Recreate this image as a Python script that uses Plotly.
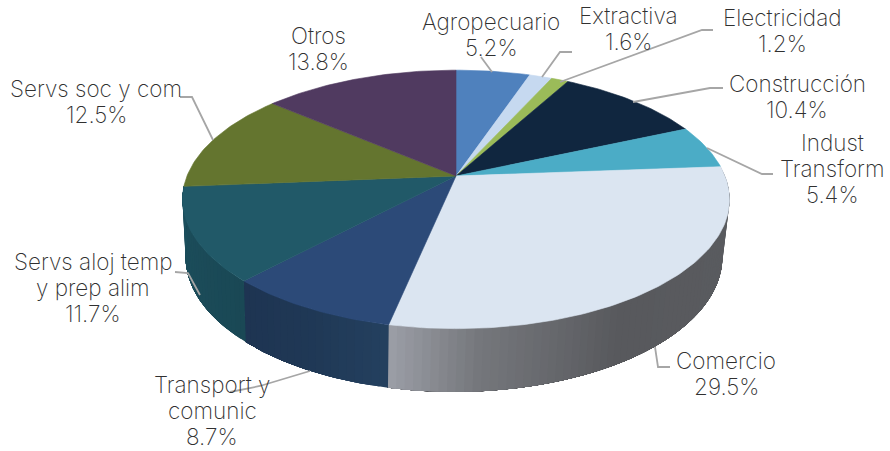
import numpy as np
import plotly.graph_objects as go

categories = ["Agropecuario", "Extractiva", "Electricidad", "Construcción", "Indust<br>Transform",
              "Comercio", "Transport y<br>comunic", "Servs aloj temp<br>y prep alim", "Servs soc y com", "Otros"]
shares = [5.2, 1.6, 1.2, 10.4, 5.4, 29.5, 8.7, 11.7, 12.5, 13.8]
top_colors = ["#4f81bd", "#c6d9f0", "#9bbb59", "#10263f", "#4bacc6",
              "#dbe5f1", "#2c4a78", "#215968", "#64752f", "#503a60"]
# wall gradient stops (fraction along the visible wall of the slice, colour)
wall_colors = {
    5: [(0, "#4e5054"), (0.12, "#5a5c60"), (0.6, "#58595d"), (0.85, "#75777c"), (1, "#9c9fa7")],
    6: [(0, "#24405f"), (0.5, "#1f3855"), (1, "#1e3452")],
    7: [(0, "#1a4855"), (1, "#1c4f5d")],
}

# Projection of the disc (a perspective view of a circle)
CX, TOP_CY, TOP_RX, TOP_RY, PERSP = 456, 176, 269, 125, 0.181
BOT_CX, BOT_CY, BOT_RX, BOT_RY = 454, 232.5, 264, 130.5
LEADER = "#a6a6a6"
TEXT = "#303030"
FONT = "Inter"
FSIZE = 22.5
LINE_STEP = 26

label_pos = [(491, 34), (628, 28), (782, 30), (797, 96), (832, 168),
             (726, 373), (212, 410), (93, 287), (96, 101), (318, 48)]
leaders = [
    [(481, 57), (492, 72)],
    [(572, 52), (560, 52), (542, 77)],
    [(713, 30), (702, 30), (560, 82)],
    [(723, 88), (710, 88), (633, 102)],
    [(773, 174), (762, 174), (707, 148)],
    [(670, 367), (658, 367), (655, 347)],
    [(310, 371), (260, 386), (230, 392)],
    [(175, 272), (188, 273), (200, 295)],
    [(180, 97), (192, 97), (213, 140)],
]


def project(t, cx, cy, rx, ry):
    u, v = np.sin(t), -np.cos(t)
    w = 1 / (1 - PERSP * v)
    return cx + rx * u * w, cy + ry * v * w


def top(t):
    return project(t, CX, TOP_CY, TOP_RX, TOP_RY)


def bottom(t):
    return project(t, BOT_CX, BOT_CY, BOT_RX, BOT_RY)


def mix(c1, c2, f):
    a = [int(c1[i:i + 2], 16) for i in (1, 3, 5)]
    b = [int(c2[i:i + 2], 16) for i in (1, 3, 5)]
    return "#" + "".join(f"{round(x + (y - x) * f):02x}" for x, y in zip(a, b))


def stop_color(stops, f):
    for (f0, c0), (f1, c1) in zip(stops, stops[1:]):
        if f <= f1:
            return mix(c0, c1, (f - f0) / (f1 - f0 or 1))
    return stops[-1][1]


fig = go.Figure()


def poly(x, y, color, lw=0.6):
    fig.add_trace(go.Scatter(x=list(x), y=list(y), mode="lines", fill="toself", fillcolor=color,
                             line=dict(color=color, width=lw), hoverinfo="skip", showlegend=False))


edges = np.concatenate([[0], np.cumsum(shares)]) / sum(shares) * 2 * np.pi

# walls: overlapping bands painted in order, so no seams show
for i, stops in wall_colors.items():
    a0, a1 = edges[i], edges[i + 1]
    bands = max(int((a1 - a0) / np.radians(1.5)), 1)
    for b in range(bands):
        # each band runs to the slice's end; the next one paints over it
        s = np.linspace(a0 + (a1 - a0) * b / bands, a1, 60)
        tx, ty = top(s)
        bx, by = bottom(s[::-1])
        poly(np.r_[tx, bx], np.r_[ty, by], stop_color(stops, (b + 0.5) / bands), lw=0)

# top faces
for i, c in enumerate(top_colors):
    s = np.linspace(edges[i], edges[i + 1], max(int((edges[i + 1] - edges[i]) * 60), 4))
    x, y = top(s)
    poly(np.r_[CX, x, CX], np.r_[TOP_CY, y, TOP_CY], c)

# leader lines
for pts in leaders:
    fig.add_trace(go.Scatter(x=[p[0] for p in pts], y=[p[1] for p in pts], mode="lines",
                             line=dict(color=LEADER, width=1.8), hoverinfo="skip", showlegend=False))

# one annotation per text line keeps the reference's tight leading
for name, val, (x, y) in zip(categories, shares, label_pos):
    lines = name.split("<br>") + [f"{val}%"]
    first = y - (len(lines) - 1) * LINE_STEP / 2
    for k, line in enumerate(lines):
        fig.add_annotation(x=x, y=first + k * LINE_STEP, xref="x", yref="y", text=line, showarrow=False,
                           align="center", xanchor="center", yanchor="middle",
                           font=dict(family=FONT, size=FSIZE, color=TEXT, weight=200))

fig.update_layout(
    width=890, height=451, margin=dict(l=0, r=0, t=0, b=0),
    paper_bgcolor="white", plot_bgcolor="white", showlegend=False,
    xaxis=dict(range=[0, 890], visible=False, fixedrange=True),
    yaxis=dict(range=[451, 0], visible=False, fixedrange=True),
)
fig.write_html("out.html", config={"displayModeBar": False},
               post_script="document.body.style.margin='0';")
